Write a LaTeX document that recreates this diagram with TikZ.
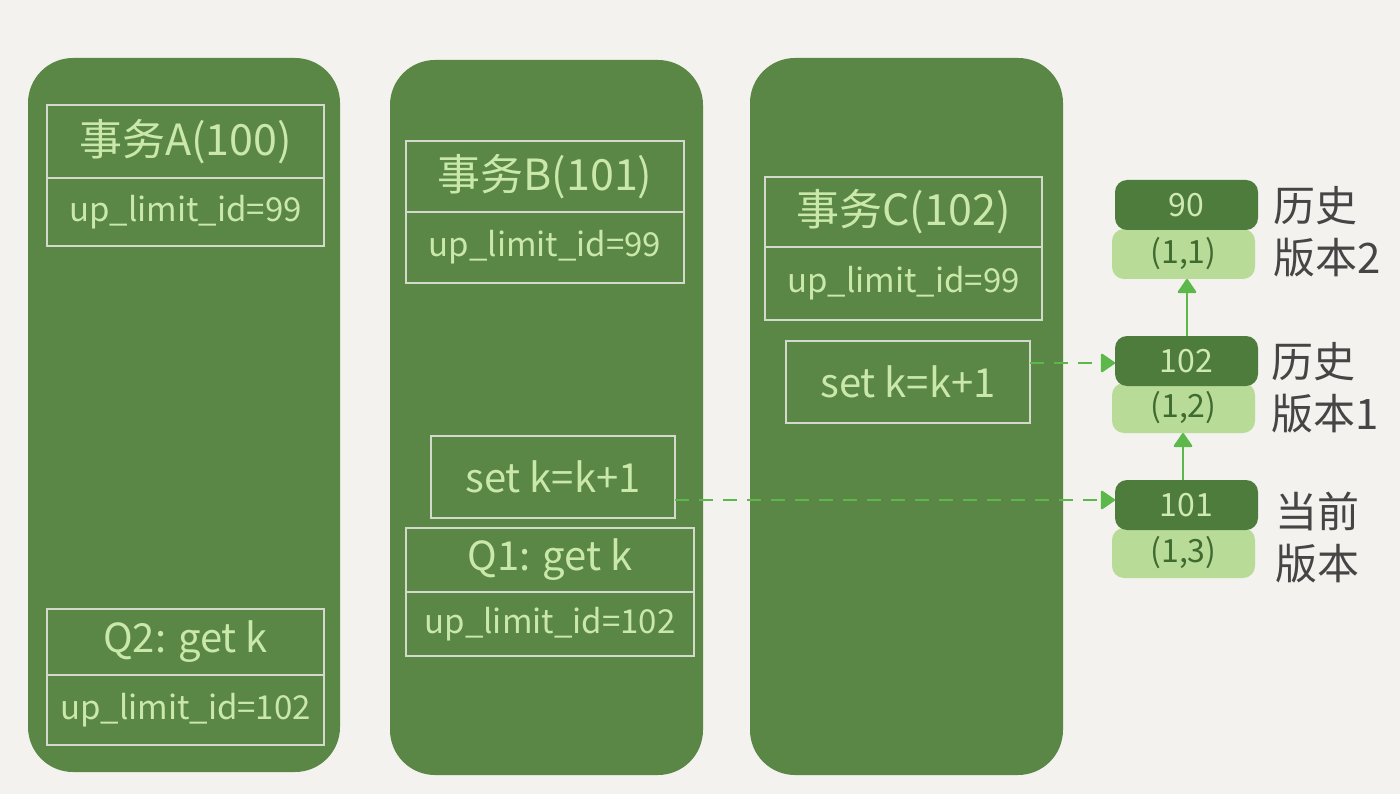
\documentclass[tikz,border=0pt]{standalone}
\usepackage{fontspec}
\newfontfamily\cjk{Noto Sans CJK SC}
\usetikzlibrary{arrows.meta}
\definecolor{bgc}{HTML}{F3F2EE}
\definecolor{panelc}{HTML}{5A8646}
\definecolor{linec}{HTML}{D3DACB}
\definecolor{txtc}{HTML}{C9E8A9}
\definecolor{vdark}{HTML}{4E7C3D}
\definecolor{vlight}{HTML}{B8DB98}
\definecolor{vdtxt}{HTML}{CFE9B4}
\definecolor{vltxt}{HTML}{3F6A30}
\definecolor{arrc}{HTML}{5CB84A}
\definecolor{labc}{HTML}{454545}
\tikzset{
  panel/.style={fill=panelc, draw=none, rounded corners=45pt, anchor=north west, inner sep=0pt, outer sep=0pt},
  tbox/.style={draw=linec, line width=2.2pt, anchor=north west, inner sep=0pt, outer sep=0pt, text=txtc, font=\cjk\fontsize{40}{40}\selectfont},
  ttl/.style={tbox, font=\cjk\fontsize{43}{43}\selectfont},
  idt/.style={tbox, font=\cjk\fontsize{33}{33}\selectfont},
  vdk/.style={fill=vdark, rounded corners=12pt, anchor=north west, minimum width=143pt, minimum height=50pt, inner sep=0pt, outer sep=0pt, text=vdtxt, font=\cjk\fontsize{32}{32}\selectfont},
  vlt/.style={fill=vlight, rounded corners=12pt, anchor=north west, minimum width=143pt, minimum height=50pt, inner sep=0pt, outer sep=0pt, text=vltxt, font=\cjk\fontsize{32}{32}\selectfont},
  lab/.style={text=labc, font=\cjk\fontsize{42}{52}\selectfont, align=left, anchor=west},
  verarr/.style={draw=arrc, line width=2.2pt, -{Triangle[width=20pt,length=15pt,round]}},
  dasharr/.style={draw=arrc, line width=2.2pt, dash pattern=on 14pt off 10pt, -{Triangle[width=20pt,length=15pt,round]}}
}
\begin{document}
\begin{tikzpicture}[x=1pt,y=-1pt]
\useasboundingbox[fill=bgc] (0,0) rectangle (1400,794);
% panels
\node[panel, minimum width=312pt, minimum height=714pt] (pA) at (28,58) {};
\node[panel, minimum width=313pt, minimum height=715pt] (pB) at (390,60) {};
\node[panel, minimum width=313pt, minimum height=717pt] (pC) at (750,58) {};
% panel A
\node[ttl, minimum width=277pt, minimum height=73pt] (aT) at (47,105) {事务A(100)};
\node[idt, minimum width=277pt, minimum height=68pt] (aI) at (47,178) {up\_limit\_id=99};
\node[tbox, minimum width=277pt, minimum height=66pt] (aQ) at (47,609) {Q2: get k};
\node[idt, minimum width=277pt, minimum height=70pt] (aI2) at (47,675) {up\_limit\_id=102};
% panel B
\node[ttl, minimum width=278pt, minimum height=71pt] (bT) at (406,141) {事务B(101)};
\node[idt, minimum width=278pt, minimum height=71pt] (bI) at (406,212) {up\_limit\_id=99};
\node[tbox, minimum width=244pt, minimum height=82pt] (bS) at (431,436) {set k=k+1};
\node[tbox, minimum width=288pt, minimum height=64pt] (bQ) at (406,528) {Q1: get k};
\node[idt, minimum width=288pt, minimum height=64pt] (bI2) at (406,592) {up\_limit\_id=102};
% panel C
\node[ttl, minimum width=277pt, minimum height=70pt] (cT) at (765,177) {事务C(102)};
\node[idt, minimum width=277pt, minimum height=73pt] (cI) at (765,247) {up\_limit\_id=99};
\node[tbox, minimum width=244pt, minimum height=82pt] (cS) at (786,341) {set k=k+1};
% versions
\node[vlt] (v2l) at (1112,229) {(1,1)};
\node[vdk] (v2d) at (1115,180) {90};
\node[vlt] (v1l) at (1112,383) {(1,2)};
\node[vdk] (v1d) at (1115,336) {102};
\node[vlt] (v0l) at (1112,528) {(1,3)};
\node[vdk] (v0d) at (1115,480) {101};
% labels
\node[lab] (l2) at (1270,232) {历史\\版本2};
\node[lab] (l1) at (1268,388) {历史\\版本1};
\node[lab] (l0) at (1272,538) {当前\\版本};
% arrows
\draw[verarr] (v1d.north -| 1187,0) -- (v2l.south -| 1187,0);
\draw[verarr] (v0d.north -| 1183,0) -- (v1l.south -| 1183,0);
\draw[dasharr] (cS.east |- 0,363) -- (v1d.west |- 0,363);
\draw[dasharr] (bS.east |- 0,500) -- (v0d.west |- 0,500);
\end{tikzpicture}
\end{document}
